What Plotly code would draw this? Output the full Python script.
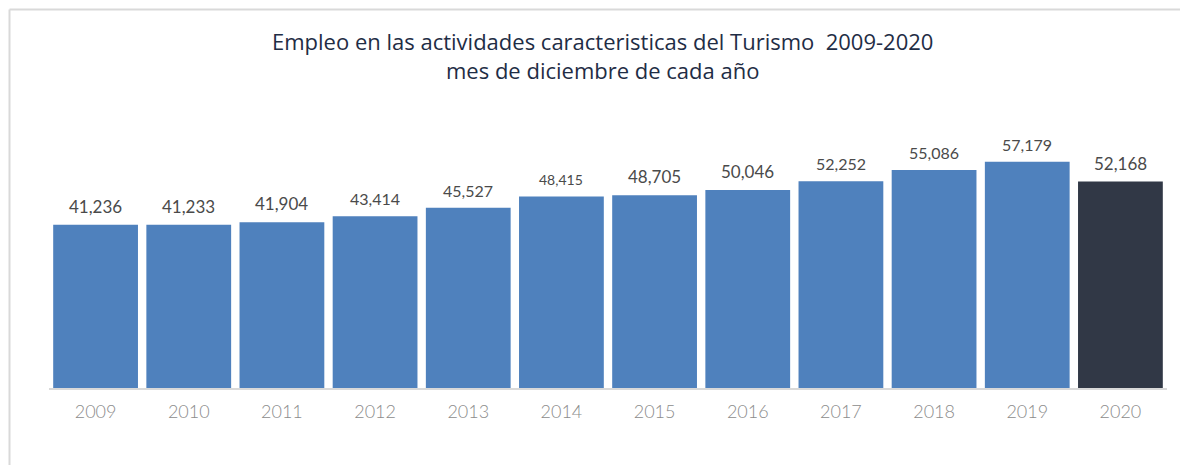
import plotly.graph_objects as go

years = ["2009", "2010", "2011", "2012", "2013", "2014", "2015", "2016", "2017", "2018", "2019", "2020"]
empleo = [41236, 41233, 41904, 43414, 45527, 48415, 48705, 50046, 52252, 55086, 57179, 52168]
labels = ["41,236", "41,233", "41,904", "43,414", "45,527", "48,415", "48,705", "50,046", "52,252", "55,086", "57,179", "52,168"]
label_sizes = [17, 17, 17, 16, 16, 14, 17, 17, 16, 16, 16, 17]
colors = ["#4f81bd"] * 11 + ["#313846"]

# page body has an 8px margin, so the figure is shifted by 8px; keep it inside the window
OFF = 8
W, H = 1188 - 2 * OFF, 473 - 2 * OFF
L, T = 49 - OFF, 111 - OFF
R = W - (1167 - OFF)
B = H - (388 - OFF)

fig = go.Figure()
fig.add_trace(go.Bar(
    x=years, y=empleo,
    marker=dict(color=colors, line=dict(width=0)),
    cliponaxis=False,
))

annotations = []
for i, (v, lab, s) in enumerate(zip(empleo, labels, label_sizes)):
    annotations.append(dict(
        x=i, y=v, xref="x", yref="y", text=lab, showarrow=False,
        yanchor="bottom", yshift=6,
        font=dict(family="Lato", size=s, color="#4a4a4a"),
    ))

plot_h = H - T - B
plot_w = W - L - R
annotations.append(dict(
    text="Empleo en las actividades caracteristicas del Turismo  2009-2020<br>mes de diciembre de cada año",
    x=(602 - 49) / plot_w, y=(388 - 55) / plot_h, xref="paper", yref="paper", showarrow=False,
    font=dict(family="Open Sans", size=22, color="#1f2d45"),
    xanchor="center", yanchor="middle",
))

def px_x(p):
    return (p - 49) / plot_w

def px_y(p):
    return (388 - p) / plot_h

border = dict(color="#d9d9d9", width=2)
fig.update_layout(
    width=W, height=H,
    margin=dict(l=L, r=R, t=T, b=B),
    paper_bgcolor="white", plot_bgcolor="white",
    bargap=0.09,
    showlegend=False,
    xaxis=dict(type="category", showline=True, linecolor="#d9d9d9", linewidth=2, ticks="",
               ticklabelstandoff=6,
               tickfont=dict(family="Lato", size=18, color="#8c8c8c", weight=300),
               showgrid=False),
    yaxis=dict(range=[0, 70000], visible=False, showgrid=False),
    annotations=annotations,
    shapes=[
        dict(type="line", xref="paper", yref="paper",
             x0=px_x(9.5), x1=px_x(1180), y0=px_y(9.5), y1=px_y(9.5),
             line=border, layer="below"),
        dict(type="line", xref="paper", yref="paper",
             x0=px_x(9.5), x1=px_x(9.5), y0=px_y(9.5), y1=px_y(465),
             line=border, layer="below"),
    ],
)

fig.write_html("out.html")
